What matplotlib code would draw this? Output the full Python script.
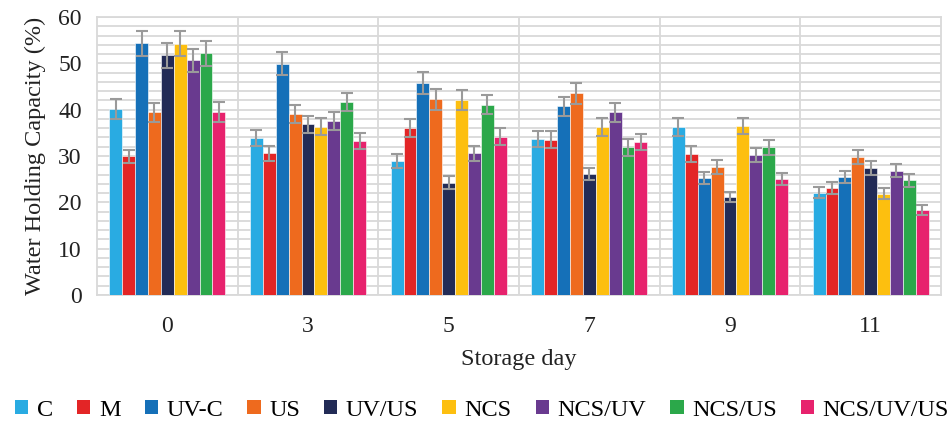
import matplotlib
matplotlib.use("Agg")
import matplotlib.pyplot as plt
import numpy as np
from matplotlib.patches import Patch

plt.rcParams['font.family'] = ['Liberation Serif', 'DejaVu Serif']

days = ["0", "3", "5", "7", "9", "11"]
series = ["C", "M", "UV-C", "US", "UV/US", "NCS", "NCS/UV", "NCS/US", "NCS/UV/US"]
colors = ["#29ABE2", "#E32526", "#1570B8", "#EE6A1E", "#222B56",
          "#FDBF0F", "#693A8F", "#2BA84A", "#E7226D"]

C        = [40.1, 33.9, 28.9, 33.7, 36.3, 22.1]
M        = [29.9, 30.6, 36.1, 33.5, 30.4, 23.1]
UV_C     = [54.3, 49.9, 45.8, 40.7, 25.3, 25.5]
US       = [39.4, 39.0, 42.2, 43.5, 27.7, 29.7]
UV_US    = [51.7, 36.8, 24.2, 26.1, 21.2, 27.5]
NCS      = [54.2, 36.3, 42.1, 36.3, 36.5, 21.9]
NCS_UV   = [50.7, 37.5, 30.6, 39.4, 30.2, 26.8]
NCS_US   = [52.2, 41.7, 41.1, 31.9, 31.9, 24.8]
NCS_UV_US = [39.5, 33.2, 34.2, 33.1, 25.0, 18.3]

C_err        = [2.1, 1.7, 1.5, 1.8, 1.9, 1.2]
M_err        = [1.5, 1.6, 1.9, 1.8, 1.7, 1.3]
UV_C_err     = [2.7, 2.5, 2.4, 2.1, 1.3, 1.3]
US_err       = [2.1, 1.9, 2.2, 2.3, 1.5, 1.5]
UV_US_err    = [2.6, 1.8, 1.4, 1.3, 1.1, 1.5]
NCS_err      = [2.7, 1.8, 2.1, 2.0, 1.8, 1.1]
NCS_UV_err   = [2.5, 1.9, 1.6, 2.1, 1.6, 1.4]
NCS_US_err   = [2.7, 2.0, 2.1, 1.8, 1.6, 1.4]
NCS_UV_US_err = [2.1, 1.7, 1.8, 1.7, 1.3, 1.1]

values = [C, M, UV_C, US, UV_US, NCS, NCS_UV, NCS_US, NCS_UV_US]
errors = [C_err, M_err, UV_C_err, US_err, UV_US_err, NCS_err, NCS_UV_err, NCS_US_err, NCS_UV_US_err]

fig = plt.figure(figsize=(9.52, 4.26), dpi=100)
ax = fig.add_axes([97/952, 1-295/426, (941-97)/952, (295-17)/426])

n = len(series)
x = np.arange(len(days))
bw = 0.825 / n
for i, (s, v, e, c) in enumerate(zip(series, values, errors, colors)):
    pos = x - 0.825/2 + bw*(i+0.5)
    ax.bar(pos, v, width=bw, color=c, edgecolor='white', linewidth=0.4, zorder=3)
    ax.errorbar(pos, v, yerr=e, fmt='none', ecolor='#9a9a9a', elinewidth=1.5,
                capsize=4.3, capthick=1.5, zorder=4)

ax.set_xlim(-0.5, len(days)-0.5)
ax.set_ylim(0, 60)
ax.set_yticks(np.arange(0, 61, 10))
ax.set_yticks(np.arange(0, 61, 2), minor=True)
ax.yaxis.grid(True, which='both', color='#d9d9d9', linewidth=1.3, zorder=0)
for b in np.arange(0.5, len(days)-0.5, 1):
    ax.axvline(b, color='#d9d9d9', linewidth=1.3, zorder=0)
ax.set_xticks(x)
ax.set_xticklabels(days)
ax.tick_params(axis='both', which='both', length=0, labelsize=17, colors='#222222')
ax.tick_params(axis='x', pad=15)
ax.tick_params(axis='y', pad=11)
for sp in ax.spines.values():
    sp.set_color('#d9d9d9')
    sp.set_linewidth(1.3)

ax.set_ylabel("Water Holding Capacity (%)", fontsize=17.5, color='#222222', labelpad=9)
ax.set_xlabel("Storage day", fontsize=17.5, color='#222222', labelpad=9)

handles = [Patch(facecolor=c, label=s) for s, c in zip(series, colors)]
fig.legend(handles=handles, loc='center', bbox_to_anchor=(482/952, 1-410/426), ncol=9,
           frameon=False, fontsize=17.5, handlelength=0.55, handleheight=0.55,
           handletextpad=0.35, columnspacing=0.99, borderaxespad=0, borderpad=0)

fig.savefig("out.png", dpi=100)
